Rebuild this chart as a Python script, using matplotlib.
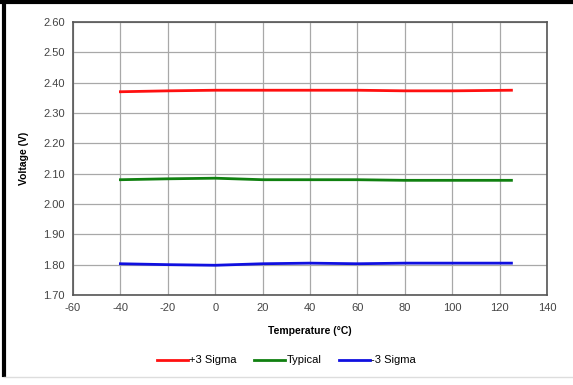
import numpy as np
import matplotlib
matplotlib.use("Agg")
import matplotlib.pyplot as plt
from matplotlib.lines import Line2D

temps = [-40, -20, 0, 20, 40, 60, 80, 100, 125]
plus3 = [2.370, 2.373, 2.375, 2.375, 2.375, 2.375, 2.373, 2.373, 2.375]
typical = [2.080, 2.083, 2.085, 2.080, 2.080, 2.080, 2.078, 2.078, 2.078]
minus3 = [1.803, 1.800, 1.798, 1.803, 1.805, 1.803, 1.805, 1.805, 1.805]

xticks = np.arange(-60, 141, 20)
yticks = np.arange(1.70, 2.601, 0.10)

plt.rcParams['font.family'] = ['Liberation Sans', 'DejaVu Sans']
plt.rcParams['axes.unicode_minus'] = False

fig = plt.figure(figsize=(5.73, 3.85), dpi=100, facecolor="white")
ax = fig.add_axes([0.1274, 0.2338, 0.8272, 0.7091])

ax.plot(temps, plus3, color="#ff1010", lw=2, label="+3 Sigma")
ax.plot(temps, typical, color="#108010", lw=2, label="Typical")
ax.plot(temps, minus3, color="#1010e0", lw=2, label="-3 Sigma")

ax.set_xlim(-60, 140)
ax.set_ylim(1.70, 2.60)
ax.set_xticks(xticks)
ax.set_yticks(yticks)
ax.set_yticklabels([f"{v:.2f}" for v in yticks])
ax.grid(True, color="#a8a8a8", lw=0.9)
ax.set_axisbelow(True)
ax.tick_params(length=0, labelsize=8, colors="#444444", pad=6)
for s in ax.spines.values():
    s.set_color("#555555")
    s.set_linewidth(1.2)

ax.set_xlabel("Temperature (°C)", fontsize=7.5, fontweight="bold", labelpad=9)
ax.set_ylabel("Voltage (V)", fontsize=7.5, fontweight="bold", labelpad=10)

ax.legend(loc="upper center", bbox_to_anchor=(0.45, -0.185), ncol=3,
          frameon=False, fontsize=8, handlelength=2.8, handletextpad=0.1,
          columnspacing=1.6)

# screenshot frame
fig.add_artist(Line2D([0.007, 0.007], [0.025, 0.997], color="black", lw=3,
                      transform=fig.transFigure))
fig.add_artist(Line2D([0.0, 1.0], [0.995, 0.995], color="black", lw=3,
                      transform=fig.transFigure))
fig.add_artist(Line2D([0.007, 1.0], [0.02, 0.02], color="#dddddd", lw=1,
                      transform=fig.transFigure))

fig.savefig("out.png", dpi=100)
